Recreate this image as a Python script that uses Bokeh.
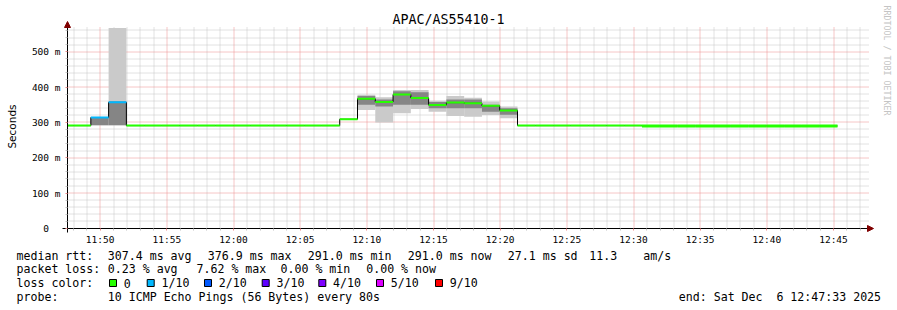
import math
from datetime import datetime, timezone

from bokeh.plotting import figure
from bokeh.models import Range1d, FixedTicker, Label, Arrow, NormalHead, ColumnDataSource
from bokeh.embed import file_html
from bokeh.resources import INLINE
from bokeh.core.properties import value

# ------------------------------------------------------------------ data
TITLE = "APAC/AS55410-1"
Y_LABEL = "Seconds"
WATERMARK = "RRDTOOL / TOBI OETIKER"
END_TIME = "2025-12-06 12:47:33"
FIRST_SAMPLE = "2025-12-06 11:46:38"
WINDOW_S = 3600
STEP_S = 80
NA = float("nan")

# median rtt per 80 s sample (ms)
median_ms = ([291, 291, 314, 357] + [291] * 12 + [309] +
             [367, 358, 379, 369, 349, 356, 354, 347, 334] +
             [291] * 7 + [290] * 11)
# lost pings out of 10
loss_tenths = [0, 0, 1, 1] + [0] * 40
# smoke (ping spread) per sample: min, lower, upper, max (ms)
smoke_lo = ([NA, NA, 292, 292] + [NA] * 12 + [NA] +
            [335, 300, 326, 338, 330, 318, 316, 321, 312] + [NA] * 18)
smoke_q1 = ([NA, NA, 292, 292] + [NA] * 12 + [NA] +
            [350, 345, 350, 350, 340, 340, 340, 330, 322] + [NA] * 18)
smoke_q3 = ([NA, NA, 313, 357] + [NA] * 12 + [NA] +
            [375, 365, 388, 385, 358, 365, 365, 350, 340] + [NA] * 18)
smoke_hi = ([NA, NA, 313, 567] + [NA] * 12 + [NA] +
            [378, 371, 392, 392, 361, 375, 370, 359, 345] + [NA] * 18)

x_tick_labels = ["11:50", "11:55", "12:00", "12:05", "12:10", "12:15",
                 "12:20", "12:25", "12:30", "12:35", "12:40", "12:45"]
y_ticks = [0, 100, 200, 300, 400, 500]
y_tick_labels = ["0\u00a0\u00a0", "100 m", "200 m", "300 m", "400 m", "500 m"]

loss_labels = ["0", "1/10", "2/10", "3/10", "4/10", "5/10", "9/10"]
loss_colors = ["#26ff00", "#00b8ff", "#0059ff", "#5e00ff", "#7e00ff", "#dd00ff", "#ff0000"]
loss_levels = [0, 1, 2, 3, 4, 5, 9]

rtt_stats = ["307.4 ms avg", "376.9 ms max", "291.0 ms min", "291.0 ms now", "27.1 ms sd", "11.3", "am/s"]
loss_stats = ["0.23 % avg", "7.62 % max", "0.00 % min", "0.00 % now"]
probe_text = "10 ICMP Echo Pings (56 Bytes) every 80s"
end_text = ["end: Sat Dec", "6 12:47:33 2025"]

# ------------------------------------------------------------------ helpers


def ms(s):
    return datetime.strptime(s, "%Y-%m-%d %H:%M:%S").replace(tzinfo=timezone.utc).timestamp() * 1000


T_END = ms(END_TIME)
T0 = T_END - WINDOW_S * 1000
T_FIRST = ms(FIRST_SAMPLE)

# layout constants (pixels)
W, H = 897, 310
FL = 67          # left edge of graph area
ZERO_Y = 228     # pixel row of 0 ms
PLOT_W = 800     # pixels for the 1 h window
PX_PER_MS_VAL = 0.3536
MS_PER_PX = WINDOW_S * 1000 / PLOT_W


def px_x(px):
    return T0 + (px - FL) * MS_PER_PX


def px_y(py):
    return (ZERO_Y - py) / PX_PER_MS_VAL


def snap_x(t):
    px = FL + (t - T0) / MS_PER_PX
    return px_x(math.floor(px) + 0.5)


def snap_y(v):
    py = ZERO_Y - v * PX_PER_MS_VAL
    return px_y(math.floor(py) + 0.5)


n = len(median_ms)
t_start = [T_FIRST + i * STEP_S * 1000 for i in range(n)]
t_end = [t + STEP_S * 1000 for t in t_start]
color_of = dict(zip(loss_levels, loss_colors))
seg_colors = [color_of[l] for l in loss_tenths]
seg_widths = [3 if m == 290 else 2 for m in median_ms]

MONO = "DejaVu Sans Mono"
GRID_MINOR = "#c4c4c4"
GRID_MAJOR = "#ec8c8c"

# ------------------------------------------------------------------ figure (frame = whole canvas)
p = figure(width=W, height=H, x_range=Range1d(px_x(0), px_x(W)), y_range=Range1d(px_y(H), px_y(0)),
           output_backend="svg", toolbar_location=None, min_border=0,
           background_fill_color="white", border_fill_color="white",
           outline_line_color=None)
p.grid.visible = False

x_major = [int(ms("2025-12-06 " + lab + ":00")) for lab in x_tick_labels]
x_minor = [T0 - (T0 % 60000) + 60000 * i for i in range(1, 61)]
x_minor = [t for t in x_minor if t not in x_major and t <= T_END]
y_minor = [v for v in range(20, 580, 20) if v % 100 != 0]
grid_top = px_y(27)
grid_right = px_x(869)

xm = [snap_x(t) for t in x_minor]
xM = [snap_x(t) for t in x_major]
ym = [snap_y(v) for v in y_minor]
yM = [snap_y(v) for v in y_ticks[1:]]
p.segment(x0=xm, y0=[0] * len(xm), x1=xm, y1=[grid_top] * len(xm),
          line_color=GRID_MINOR, line_width=1, line_dash="1 1")
p.segment(x0=[T0] * len(ym), y0=ym, x1=[grid_right] * len(ym), y1=ym,
          line_color=GRID_MINOR, line_width=1, line_dash="1 1")
p.segment(x0=xM, y0=[0] * len(xM), x1=xM, y1=[grid_top] * len(xM),
          line_color=GRID_MAJOR, line_width=1, line_dash="1 1")
p.segment(x0=[T0] * len(yM), y0=yM, x1=[grid_right] * len(yM), y1=yM,
          line_color=GRID_MAJOR, line_width=1, line_dash="1 1")

# samples visible inside the window only (clip at the left edge)
cl = [max(t, T0) for t in t_start]
src = ColumnDataSource(dict(l=cl, r=t_end, lo=smoke_lo, q1=smoke_q1, q3=smoke_q3, hi=smoke_hi,
                            med=median_ms, c=seg_colors, w=seg_widths))
p.quad(left="l", right="r", bottom="lo", top="hi", source=src, fill_color="#cacaca", line_color=None)
p.quad(left="l", right="r", bottom="q1", top="q3", source=src, fill_color="#858585", line_color=None)

# black median step line
p.step(x=cl + [t_end[-1]], y=median_ms + [median_ms[-1]], mode="after",
       line_color="black", line_width=1)
# loss-coloured median segments
p.segment(x0="l", y0="med", x1="r", y1="med", source=src, line_color="c", line_width="w")

# axes at fixed positions inside the canvas
xa, ya = p.xaxis[0], p.yaxis[0]
xa.fixed_location = 0
ya.fixed_location = T0
xa.bounds = (px_x(62), px_x(870))
ya.bounds = (px_y(232), px_y(24))
xa.ticker = FixedTicker(ticks=x_major, minor_ticks=x_minor)
xa.major_label_overrides = {t: lab for t, lab in zip(x_major, x_tick_labels)}
ya.ticker = FixedTicker(ticks=y_ticks, minor_ticks=y_minor)
ya.major_label_overrides = {t: lab for t, lab in zip(y_ticks, y_tick_labels)}
for ax in (xa, ya):
    ax.axis_line_color = "black"
    ax.axis_line_width = 1
    ax.major_tick_in = 0
    ax.minor_tick_in = 0
    ax.major_tick_out = 2
    ax.minor_tick_out = 2
    ax.major_tick_line_color = GRID_MAJOR
    ax.minor_tick_line_color = GRID_MINOR
    ax.major_label_text_font = MONO
    ax.major_label_text_font_size = "9.5px"
    ax.major_label_text_color = "black"
xa.major_label_standoff = 3
ya.major_label_standoff = 5

# arrows
head_col = "#800000"
p.add_layout(Arrow(end=NormalHead(size=6, fill_color=head_col, line_color=head_col),
                   x_start=T0, y_start=px_y(30), x_end=T0, y_end=px_y(21), line_alpha=0))
p.add_layout(Arrow(end=NormalHead(size=6, fill_color=head_col, line_color=head_col),
                   x_start=px_x(860), y_start=0, x_end=px_x(873), y_end=0, line_alpha=0))

# texts
p.add_layout(Label(x=px_x(448), y=px_y(19), text=TITLE, text_align="center", text_baseline="middle",
                   text_font=MONO, text_font_size="13.3px", text_color="black"))
p.add_layout(Label(x=px_x(11), y=px_y(126), text=Y_LABEL, angle=math.pi / 2, text_align="center",
                   text_baseline="middle", text_font="DejaVu Sans", text_font_size="10.5px",
                   text_color="black"))
p.add_layout(Label(x=px_x(886), y=px_y(5), text=WATERMARK, angle=-math.pi / 2, text_align="left",
                   text_baseline="middle", text_font=MONO, text_font_size="8.3px", text_color="#c4c4c4"))

# ------------------------------------------------------------------ legend block
rows_y = [255, 268.5, 282.5, 296]
tx, ty, tt = [], [], []


def put(text, x, y):
    tx.append(px_x(x))
    ty.append(px_y(y))
    tt.append(text)


put("median rtt:", 16, rows_y[0])
for s, x in zip(rtt_stats, [107.3, 207.3, 307.3, 407.3, 507.3, 588.7, 642.7]):
    put(s, x, rows_y[0])
put("packet loss:", 16, rows_y[1])
for s, x in zip(loss_stats, [107.3, 196.0, 280.0, 365.7]):
    put(s, x, rows_y[1])
put("loss color:", 16, rows_y[2])
box_left = [109, 146.7, 204, 261.7, 318.3, 376, 435]
for s, x in zip(loss_labels, box_left):
    put(s, x + 14.3, rows_y[2])
put("probe:", 16, rows_y[3])
put(probe_text, 107.3, rows_y[3])
put(end_text[0], 678.3, rows_y[3])
put(end_text[1], 678.3 + 14 * 6.97, rows_y[3])

p.text(x=tx, y=ty, text=tt, text_font=value(MONO), text_font_size=value("11.6px"),
       text_baseline="middle", text_align="left", text_color="black")
p.scatter(x=[px_x(b + 3.5) for b in box_left], y=[px_y(rows_y[2])] * len(box_left), marker="square",
          size=7, fill_color=loss_colors, line_color="black", line_width=1)

open("out.html", "w").write(file_html(p, INLINE))
